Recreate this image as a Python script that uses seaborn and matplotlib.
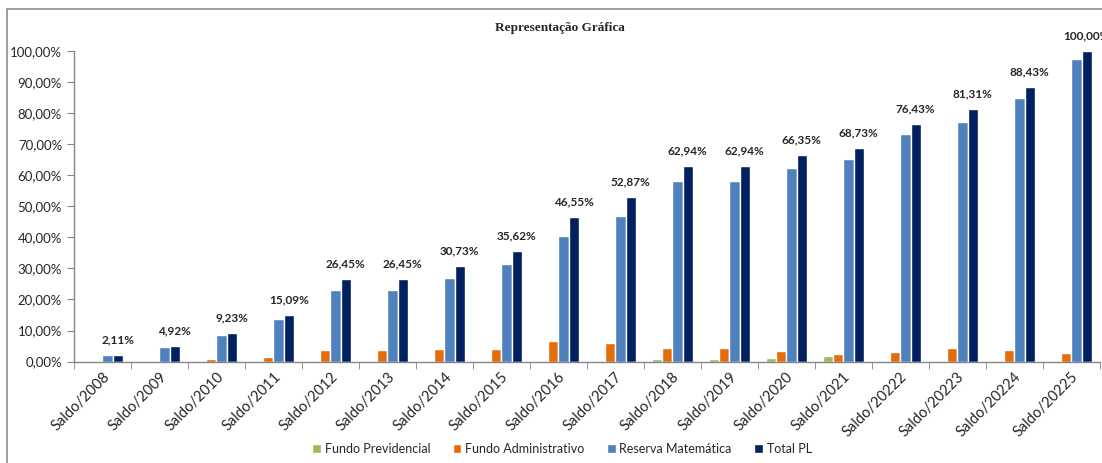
import matplotlib
matplotlib.use("Agg")
import matplotlib.pyplot as plt
from matplotlib.patches import Rectangle
from matplotlib.ticker import FuncFormatter
import seaborn as sns
import pandas as pd
import numpy as np

# dados (em %)
categorias = ['Saldo/2008', 'Saldo/2009', 'Saldo/2010', 'Saldo/2011', 'Saldo/2012', 'Saldo/2013',
              'Saldo/2014', 'Saldo/2015', 'Saldo/2016', 'Saldo/2017', 'Saldo/2018', 'Saldo/2019',
              'Saldo/2020', 'Saldo/2021', 'Saldo/20222', 'Saldo/20223', 'Saldo/20224', 'Saldo/20225']
fundo_previdencial = [0, 0, 0, 0, 0, 0, 0, 0, 0, 0, 0.9, 0.9, 1.0, 1.7, 0, 0, 0, 0]
fundo_administrativo = [0, 0, 0.8, 1.4, 3.8, 3.8, 4.0, 4.2, 6.5, 5.9, 4.3, 4.3, 3.4, 2.5, 3.1, 4.3, 3.8, 2.7]
reserva_matematica = [2.0, 4.6, 8.6, 13.8, 22.9, 22.9, 26.9, 31.5, 40.3, 47.0, 58.0, 58.0,
                      62.2, 65.1, 73.4, 77.2, 85.0, 97.5]
total_pl = [2.11, 4.92, 9.23, 15.09, 26.45, 26.45, 30.73, 35.62, 46.55, 52.87, 62.94, 62.94,
            66.35, 68.73, 76.43, 81.31, 88.43, 100.00]
series = ['Fundo Previdencial', 'Fundo Administrativo', 'Reserva Matemática', 'Total PL']
cores = ['#9BBB59', '#E46C0A', '#4F81BD', '#002060']


def pct(v):
    return f"{v:.2f}%".replace('.', ',')


def draw_figure():
    sns.set_style("white")
    plt.rcParams['font.family'] = ['Lato', 'DejaVu Sans']

    linhas = []
    for nome, valores in zip(series, [fundo_previdencial, fundo_administrativo,
                                      reserva_matematica, total_pl]):
        for cat, v in zip(categorias, valores):
            linhas.append([cat, nome, v])
    df = pd.DataFrame(linhas, columns=['categoria', 'serie', 'valor'])

    fig = plt.figure(figsize=(11.02, 4.63), dpi=100)
    ax = fig.add_axes([0.067, 0.219, 0.931, 0.671])

    sns.barplot(data=df, x='categoria', y='valor', hue='serie', palette=cores,
                width=0.72, saturation=1, ax=ax, legend=True)

    ax.set_ylim(0, 100)
    ax.set_xlim(-0.5, len(categorias) - 0.5)
    ax.set_yticks(np.arange(0, 101, 10))
    ax.yaxis.set_major_formatter(FuncFormatter(lambda v, p: pct(v)))
    ax.set_xlabel('')
    ax.set_ylabel('')

    # marcas do eixo x entre as categorias
    ax.set_xticks(np.arange(-0.5, len(categorias), 1), minor=True)
    ax.tick_params(axis='x', which='major', length=0, labelsize=10.5, pad=6, labelcolor='#262626')
    ax.tick_params(axis='x', which='minor', length=5, color='#868686', direction='out', bottom=True)
    ax.tick_params(axis='y', length=5, color='#868686', direction='out', left=True,
                   labelsize=9.5, labelcolor='#262626')
    for lbl in ax.get_xticklabels():
        lbl.set_rotation(45)
        lbl.set_ha('right')
        lbl.set_rotation_mode('anchor')

    for s in ['top', 'right']:
        ax.spines[s].set_visible(False)
    for s in ['left', 'bottom']:
        ax.spines[s].set_color('#868686')
        ax.spines[s].set_linewidth(1)

    # rotulos do Total PL
    ax.bar_label(ax.containers[3], labels=[pct(v) for v in total_pl], padding=7,
                 fontsize=8.5, fontweight='bold', color='#262626', clip_on=False)

    handles, labels = ax.get_legend_handles_labels()
    ax.get_legend().remove()
    fig.legend(handles, labels, loc='center', bbox_to_anchor=(0.51, 0.03), ncol=4,
               frameon=False, fontsize=9, handlelength=0.7, handleheight=0.7,
               handletextpad=0.3, columnspacing=1.8, labelcolor='#262626')

    fig.text(0.508, 0.94, 'Representação Gráfica', ha='center', va='center',
             fontsize=9.5, fontweight='bold', family='Liberation Serif')

    fig.patches.append(Rectangle((7 / 1102, -0.1), 1.2, (463 - 9) / 463 + 0.1,
                                 transform=fig.transFigure, fill=False,
                                 edgecolor='#8c8c8c', linewidth=1.2))
    return fig


fig = draw_figure()
fig.savefig('out.png', dpi=100)
plt.close(fig)
